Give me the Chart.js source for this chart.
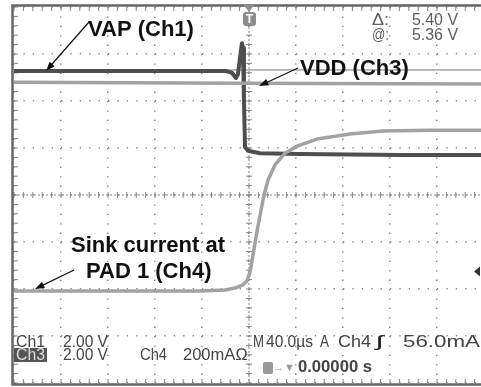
<!DOCTYPE html>
<html lang="en">
<head>
    <meta charset="UTF-8">
    <title>Scope capture</title>
    <script src="https://cdn.jsdelivr.net/npm/chart.js"></script>
    <style>
        html, body { margin: 0; padding: 0; background: #fff; overflow: hidden; }
        #wrap { width: 490px; height: 387px; position: relative; }
    </style>
</head>
<body>
    <div id="wrap"><canvas id="scope"></canvas></div>

    <script>
        // time in microseconds (40 us/div, trigger at 0), level in divisions
        const timeCh1 = [-200, -20.4, -14.5, -11.1, -9.4, -7.7, -6.0, -5.1, -4.3, -3.4, -0.9, 9.4, 43.4, 128.5, 200];
        const levelCh1 = [2.64, 2.64, 2.60, 2.49, 2.57, 2.91, 3.23, 3.13, 2.02, 1.02, 0.94, 0.89, 0.87, 0.85, 0.85];

        const timeCh3 = [-200, -8, 200];
        const levelCh3 = [2.40, 2.38, 2.36];

        const timeCh4 = [-200, -41.7, -20.4, -11.9, -5.1, -1.7, 0.9, 3.4, 6.0, 9.4, 12.8, 16.2, 22.1, 30.6, 40.9, 57.9, 86.0, 114.0, 154.0, 200];
        const levelCh4 = [-2.04, -2.04, -2.02, -1.98, -1.91, -1.83, -1.64, -1.28, -0.89, -0.43, 0, 0.32, 0.64, 0.89, 1.04, 1.19, 1.30, 1.36, 1.38, 1.38];

        const cursorTime = [-200, 200];
        const cursorLevel = [2.66, 2.66];
        const triggerLevel = -1.63;

        const xTicks = [-200, -160, -120, -80, -40, 0, 40, 80, 120, 160, 200];
        const yTicks = [-4, -3, -2, -1, 0, 1, 2, 3, 4];

        const pts = (xs, ys) => xs.map((x, i) => ({ x: x, y: ys[i] }));

        const DOT = '#858585';
        const EDGE = '#666';
        const TXT = '#444';
        const SANS = '"Liberation Sans"';

        // text squeezed/stretched to the span it takes on the scope screen
        function fitText(ctx, text, x0, x1, y) {
            const w = ctx.measureText(text).width;
            ctx.save();
            ctx.translate(x0, y);
            ctx.scale((x1 - x0) / w, 1);
            ctx.fillText(text, 0, 0);
            ctx.restore();
        }

        // border, centre axes with minor ticks, scope readouts
        const graticule = {
            id: 'graticule',
            beforeDatasetsDraw(chart) {
                const { ctx, chartArea: a, scales: { x, y } } = chart;
                const cx = x.getPixelForValue(0), cy = y.getPixelForValue(0);
                const dx = (x.getPixelForValue(40) - cx) / 5;
                const dy = (y.getPixelForValue(0) - y.getPixelForValue(1)) / 5;
                ctx.save();
                ctx.strokeStyle = DOT;
                ctx.lineWidth = 1;
                ctx.setLineDash([2, 2]);
                ctx.beginPath();
                ctx.moveTo(a.left, cy); ctx.lineTo(a.right, cy);
                ctx.moveTo(cx, a.top); ctx.lineTo(cx, a.bottom);
                ctx.stroke();
                ctx.setLineDash([]);
                ctx.beginPath();
                for (let px = a.left; px <= a.right + 1; px += dx) {
                    ctx.moveTo(px, cy - 3); ctx.lineTo(px, cy + 3);
                    ctx.moveTo(px, a.top); ctx.lineTo(px, a.top + 4);
                    ctx.moveTo(px, a.bottom); ctx.lineTo(px, a.bottom - 4);
                }
                for (let py = a.top; py <= a.bottom + 1; py += dy) {
                    ctx.moveTo(cx - 3, py); ctx.lineTo(cx + 3, py);
                    ctx.moveTo(a.left, py); ctx.lineTo(a.left + 4, py);
                }
                ctx.stroke();
                ctx.strokeStyle = EDGE;
                ctx.lineWidth = 2.5;
                ctx.strokeRect(a.left - 1.5, a.top - 1.5, a.right - a.left + 3, a.bottom - a.top + 3);
                ctx.restore();
            },
            afterDraw(chart) {
                const { ctx, chartArea: a, scales: { x, y } } = chart;
                const cx = x.getPixelForValue(0);
                ctx.save();

                // trigger position marker
                ctx.fillStyle = '#8c8c8c';
                ctx.beginPath();
                ctx.moveTo(cx - 6, a.top - 3); ctx.lineTo(cx + 6, a.top - 3); ctx.lineTo(cx, a.top + 5);
                ctx.fill();
                ctx.beginPath();
                ctx.roundRect(cx - 6, a.top + 5, 13, 14, 3);
                ctx.fill();
                ctx.fillStyle = '#fff';
                ctx.font = 'bold 12px ' + SANS;
                ctx.textAlign = 'center';
                ctx.textBaseline = 'middle';
                ctx.fillText('T', cx + 0.5, a.top + 12.5);

                // trigger level marker
                const ty = y.getPixelForValue(triggerLevel);
                ctx.fillStyle = '#333';
                ctx.beginPath();
                ctx.moveTo(474, ty); ctx.lineTo(480, ty - 5); ctx.lineTo(480, ty + 5);
                ctx.fill();

                // annotations
                ctx.fillStyle = '#111';
                ctx.textAlign = 'left';
                ctx.font = 'bold 22px ' + SANS;
                ctx.fillText('VAP (Ch1)', 88, 30);
                ctx.fillText('VDD (Ch3)', 300, 69);
                ctx.fillText('Sink current at', 71, 246);
                ctx.fillText('PAD 1 (Ch4)', 86, 272);

                const arrow = (x0, y0, x1, y1) => {
                    const ang = Math.atan2(y1 - y0, x1 - x0);
                    ctx.strokeStyle = '#111';
                    ctx.lineWidth = 1.2;
                    ctx.beginPath();
                    ctx.moveTo(x0, y0); ctx.lineTo(x1 - 6 * Math.cos(ang), y1 - 6 * Math.sin(ang));
                    ctx.stroke();
                    ctx.beginPath();
                    ctx.moveTo(x1, y1);
                    ctx.lineTo(x1 - 10 * Math.cos(ang - 0.35), y1 - 10 * Math.sin(ang - 0.35));
                    ctx.lineTo(x1 - 10 * Math.cos(ang + 0.35), y1 - 10 * Math.sin(ang + 0.35));
                    ctx.closePath();
                    ctx.fill();
                };
                arrow(89, 22, 46, 71);
                arrow(298, 68, 259, 86);
                arrow(74, 270, 35, 289);

                // scope readouts
                ctx.fillStyle = '#5e5e5e';
                ctx.font = '17px ' + SANS;
                fitText(ctx, '\u0394:', 372, 389, 20);
                fitText(ctx, '5.40 V', 412, 458, 20);
                fitText(ctx, '@:', 372, 389, 35);
                fitText(ctx, '5.36 V', 412, 458, 35);

                ctx.fillStyle = TXT;
                fitText(ctx, 'Ch1', 16, 45, 342);
                fitText(ctx, '2.00 V', 63, 108, 342);
                ctx.fillStyle = '#555';
                ctx.fillRect(14, 348, 33, 14);
                ctx.fillStyle = '#ddd';
                fitText(ctx, 'Ch3', 16, 45, 355);
                ctx.fillStyle = TXT;
                fitText(ctx, '2.00 V', 63, 108, 355);
                fitText(ctx, 'Ch4', 140, 167, 355);
                fitText(ctx, '200mA\u2126', 183, 248, 355);
                fitText(ctx, 'M', 253, 264, 342);
                fitText(ctx, '40.0\u00b5s', 266, 313, 342);
                fitText(ctx, 'A', 320, 329, 342);
                fitText(ctx, 'Ch4', 338, 371, 342);
                ctx.fillStyle = '#222';
                fitText(ctx, '\u0283', 376, 383, 342);
                ctx.fillStyle = TXT;
                fitText(ctx, '56.0mA', 403, 480, 342);

                ctx.fillStyle = '#999';
                ctx.beginPath();
                ctx.roundRect(263, 362, 10, 12, 2);
                ctx.fill();
                ctx.font = '11px ' + SANS;
                ctx.fillText('\u2192\u25bc', 273, 368);
                ctx.fillStyle = TXT;
                ctx.font = 'bold 16px ' + SANS;
                fitText(ctx, '0.00000 s', 298, 372, 368);
                ctx.restore();
            }
        };

        const ctx = document.getElementById('scope').getContext('2d');
        const chart = new Chart(ctx, {
            type: 'line',
            data: {
                datasets: [
                    { label: 'Ch4', data: pts(timeCh4, levelCh4), borderColor: '#a2a2a2', borderWidth: 3.5 },
                    { label: 'Ch3', data: pts(timeCh3, levelCh3), borderColor: '#a2a2a2', borderWidth: 3.5 },
                    { label: 'Ch1', data: pts(timeCh1, levelCh1), borderColor: '#4e4e4e', borderWidth: 4 },
                    { label: 'cursor', data: pts(cursorTime, cursorLevel), borderColor: '#777', borderWidth: 1 }
                ]
            },
            options: {
                responsive: true,
                maintainAspectRatio: false,
                animation: false,
                events: [],
                elements: { point: { radius: 0 }, line: { tension: 0, fill: false, borderJoinStyle: 'round' } },
                layout: { padding: { left: 14, top: 7, right: 6, bottom: 4 } },
                plugins: { legend: { display: false }, tooltip: { enabled: false } },
                scales: {
                    x: {
                        type: 'linear', min: -200, max: 200,
                        afterBuildTicks: (s) => { s.ticks = xTicks.map(v => ({ value: v })); },
                        ticks: { display: false },
                        grid: { color: DOT, lineWidth: 1.5, drawTicks: false },
                        border: { display: false, dash: [1.3, 8.1] }
                    },
                    y: {
                        min: -4, max: 4,
                        afterBuildTicks: (s) => { s.ticks = yTicks.map(v => ({ value: v })); },
                        ticks: { display: false },
                        grid: { color: DOT, lineWidth: 1.5, drawTicks: false },
                        border: { display: false, dash: [1.3, 8.1] }
                    }
                }
            },
            plugins: [graticule]
        });
    </script>
</body>
</html>
